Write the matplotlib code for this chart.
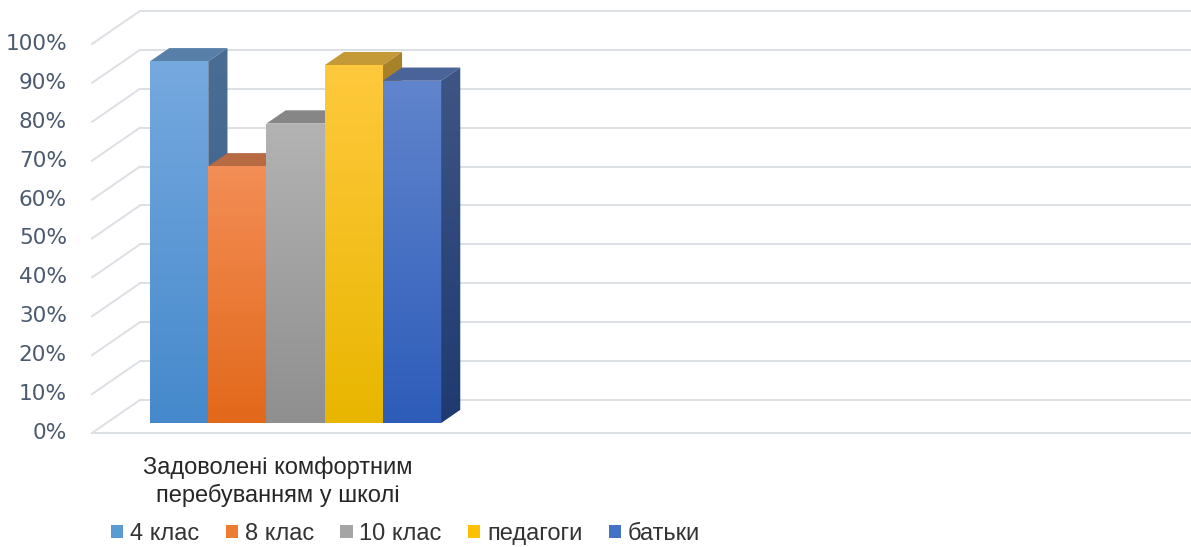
import matplotlib.pyplot as plt
import numpy as np
from matplotlib.patches import Polygon, Patch
from matplotlib.colors import to_rgb

category = "Задоволені комфортним\nперебуванням у школі"
series = ["4 клас", "8 клас", "10 клас", "педагоги", "батьки"]
values = [93, 66, 77, 92, 88]
ticks = list(range(0, 101, 10))
tick_labels = [f"{t}%" for t in ticks]

# face colours per series
legend_colors = ["#5b9bd5", "#ed7d31", "#a5a5a5", "#ffc000", "#4472c4"]
front_top = ["#76a9df", "#f38e56", "#b3b3b3", "#ffc93d", "#6185cd"]
front_bot = ["#4589cc", "#e2681a", "#8f8f8f", "#e8b600", "#2d5cb9"]
top_col = ["#587fa8", "#b86a42", "#868686", "#c49a36", "#4a6399"]
side_top = ["#4a6d94", "#a85a2c", "#7a7a7a", "#a8832c", "#3d5686"]
side_bot = ["#3a5f88", "#9a4e20", "#6a6a6a", "#9a7620", "#1e3a70"]

# oblique projection of the 3d floor (depth 0 = front, 1 = back wall)
DX, DY = 0.825, 8.5
D0, D1 = 0.3, 0.7
X_START = 0.75
grid_col = "#dcdfe4"


def proj(x, v, d):
    return (x + DX * d, v + DY * d)


def grad_poly(ax, pts, c_top, c_bot, z):
    poly = Polygon(pts, closed=True, facecolor="none", edgecolor="none", zorder=z)
    ax.add_patch(poly)
    xs = [p[0] for p in pts]
    ys = [p[1] for p in pts]
    g = np.linspace(0, 1, 256)[:, None, None]
    img = np.array(to_rgb(c_top)) * (1 - g) + np.array(to_rgb(c_bot)) * g
    im = ax.imshow(img, extent=(min(xs), max(xs), min(ys), max(ys)), origin="upper",
                   aspect="auto", interpolation="bilinear", zorder=z)
    im.set_clip_path(poly)


fig = plt.figure(figsize=(11.91, 5.47), dpi=100)
ax = fig.add_axes([0, 0, 1, 1])
ax.axis("off")

# walls: back gridlines, left wall diagonals, floor edge
for t in ticks:
    bx, by = proj(0, t, 1)
    ax.plot([bx, 25], [by, by], color=grid_col, lw=1.4, zorder=1)
    fx, fy = proj(0, t, 0)
    ax.plot([fx, bx], [fy, by], color=grid_col, lw=1.4, zorder=1)
fx, fy = proj(0, 0, 0)
ax.plot([fx, 25], [fy, fy], color=grid_col, lw=1.4, zorder=1)

# bars
z = 3
for i, v in enumerate(values):
    x0 = X_START + i
    x1 = x0 + 1
    top = [proj(x0, v, D0), proj(x1, v, D0), proj(x1, v, D1), proj(x0, v, D1)]
    ax.add_patch(Polygon(top, closed=True, facecolor=top_col[i], edgecolor="none", zorder=z))
    side = [proj(x1, 0, D0), proj(x1, 0, D1), proj(x1, v, D1), proj(x1, v, D0)]
    grad_poly(ax, side, side_top[i], side_bot[i], z + 0.1)
    front = [proj(x0, 0, D0), proj(x1, 0, D0), proj(x1, v, D0), proj(x0, v, D0)]
    grad_poly(ax, front, front_top[i], front_bot[i], z + 0.2)
    z += 1

# y tick labels on the front plane
for t, lab in zip(ticks, tick_labels):
    ax.text(-0.43, t, lab, ha="right", va="center", fontsize=15.6,
            color="#4b5a6e", family="DejaVu Sans")

# category label
ax.text(X_START + len(values) / 2 - 0.05, -12.6, category, ha="center", va="center",
        fontsize=17, color="#262626", family="Liberation Sans", linespacing=1.25)

ax.set_xlim(-92 / 58.2, (1191 - 92) / 58.2)
ax.set_ylim((433 - 547) / 3.89, 433 / 3.89)

handles = [Patch(facecolor=c, edgecolor="none") for c in legend_colors]
fig.legend(handles, series, loc="center", bbox_to_anchor=(0.3405, 0.024), ncol=5,
           frameon=False, handlelength=0.52, handleheight=0.52, handletextpad=0.28,
           columnspacing=1.12, prop={"family": "Liberation Sans", "size": 17},
           labelcolor="#333333", borderaxespad=0, borderpad=0)

fig.savefig("out.png", dpi=100)
